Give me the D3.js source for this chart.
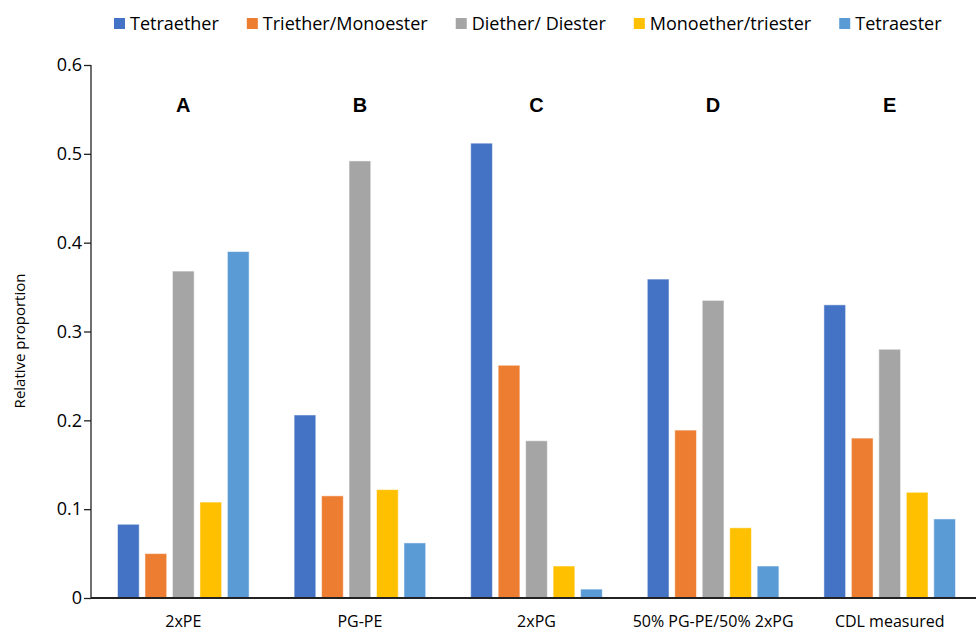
<!DOCTYPE html>
<html>
<head>
    <title>Relative proportion</title>
    <script src="https://d3js.org/d3.v7.min.js"></script>
    <style>
        body { margin: 0; background: #fff; }
        text { font-family: "Open Sans", sans-serif; fill: #000; }
    </style>
</head>
<body>
    <div id="chart"></div>
    <script>
        // data
        const groups = ["2xPE", "PG-PE", "2xPG", "50% PG-PE/50% 2xPG", "CDL measured"];
        const panels = ["A", "B", "C", "D", "E"];
        const series = ["Tetraether", "Triether/Monoester", "Diether/ Diester", "Monoether/triester", "Tetraester"];
        const tetraether = [0.083, 0.206, 0.512, 0.359, 0.330];
        const trietherMonoester = [0.050, 0.115, 0.262, 0.189, 0.180];
        const dietherDiester = [0.368, 0.492, 0.177, 0.335, 0.280];
        const monoetherTriester = [0.108, 0.122, 0.036, 0.079, 0.119];
        const tetraester = [0.390, 0.062, 0.010, 0.036, 0.089];
        const yTicks = [0, 0.1, 0.2, 0.3, 0.4, 0.5, 0.6];

        const values = [tetraether, trietherMonoester, dietherDiester, monoetherTriester, tetraester];
        const colors = ["#4472C4", "#ED7D31", "#A5A5A5", "#FFC000", "#5B9BD5"];

        const W = 976, H = 633;
        const svg = d3.select("#chart").append("svg")
            .attr("width", W)
            .attr("height", H);

        const y = d3.scaleLinear().domain([0, 0.6]).range([598, 65]);
        const x0 = d3.scaleBand().domain(groups).range([95, 978]);
        const x1 = d3.scaleBand().domain(series)
            .range([22.5, x0.bandwidth() - 22.5])
            .paddingInner(0.21);
        const color = d3.scaleOrdinal().domain(series).range(colors);

        // bars
        const g = svg.selectAll(".grp")
            .data(groups)
            .enter().append("g")
            .attr("class", "grp")
            .attr("transform", d => `translate(${x0(d)},0)`);

        g.selectAll("rect")
            .data((d, gi) => series.map((s, si) => ({s: s, v: values[si][gi]})))
            .enter().append("rect")
            .attr("x", d => x1(d.s))
            .attr("width", x1.bandwidth())
            .attr("y", d => y(d.v))
            .attr("height", d => y(0) - y(d.v))
            .attr("fill", d => color(d.s))
            .attr("stroke", "#fff")
            .attr("stroke-opacity", 0.5)
            .attr("stroke-width", 1);

        // panel letters
        svg.selectAll(".panel")
            .data(panels)
            .enter().append("text")
            .attr("class", "panel")
            .attr("x", (d, i) => x0(groups[i]) + x0.bandwidth() / 2)
            .attr("y", 112)
            .attr("text-anchor", "middle")
            .style("font-family", "'Liberation Sans', Arial, sans-serif")
            .style("font-weight", "bold")
            .style("font-size", "20px")
            .text(d => d);

        // y axis
        const yAxis = svg.append("g")
            .attr("transform", "translate(91,0)")
            .call(d3.axisLeft(y).tickValues(yTicks).tickSize(7).tickPadding(2)
                .tickFormat(d => d === 0 ? "0" : d3.format(".1f")(d)));
        yAxis.select(".domain").attr("stroke", "#222").attr("stroke-width", 1.3)
            .attr("d", `M0,${y(0.6)}V${y(0)}`);
        yAxis.selectAll(".tick line").attr("stroke", "#222").attr("stroke-width", 1.3);
        yAxis.selectAll(".tick text").style("font-size", "18px").style("font-family", "'Open Sans', sans-serif");

        // x axis
        const xAxis = svg.append("g")
            .attr("transform", `translate(0,${y(0)})`)
            .call(d3.axisBottom(x0).tickSize(0).tickPadding(0));
        xAxis.select(".domain").attr("stroke", "#222").attr("stroke-width", 2)
            .attr("d", "M91,0H976");
        xAxis.selectAll(".tick text")
            .attr("y", 29)
            .attr("dy", 0)
            .style("font-size", "16px")
            .style("font-family", "'Open Sans', sans-serif");

        // y label
        svg.append("text")
            .attr("transform", "translate(25,341) rotate(-90)")
            .attr("text-anchor", "middle")
            .style("font-size", "15px")
            .text("Relative proportion");

        // legend
        const legend = svg.append("g").attr("class", "legend");
        let lx = 114;
        series.forEach((s, i) => {
            legend.append("rect")
                .attr("x", lx).attr("y", 18)
                .attr("width", 11).attr("height", 11)
                .attr("fill", colors[i]);
            const t = legend.append("text")
                .attr("x", lx + 16).attr("y", 30)
                .style("font-size", "18px")
                .text(s);
            lx += 16 + t.node().getComputedTextLength() + 28;
        });
    </script>
</body>
</html>
